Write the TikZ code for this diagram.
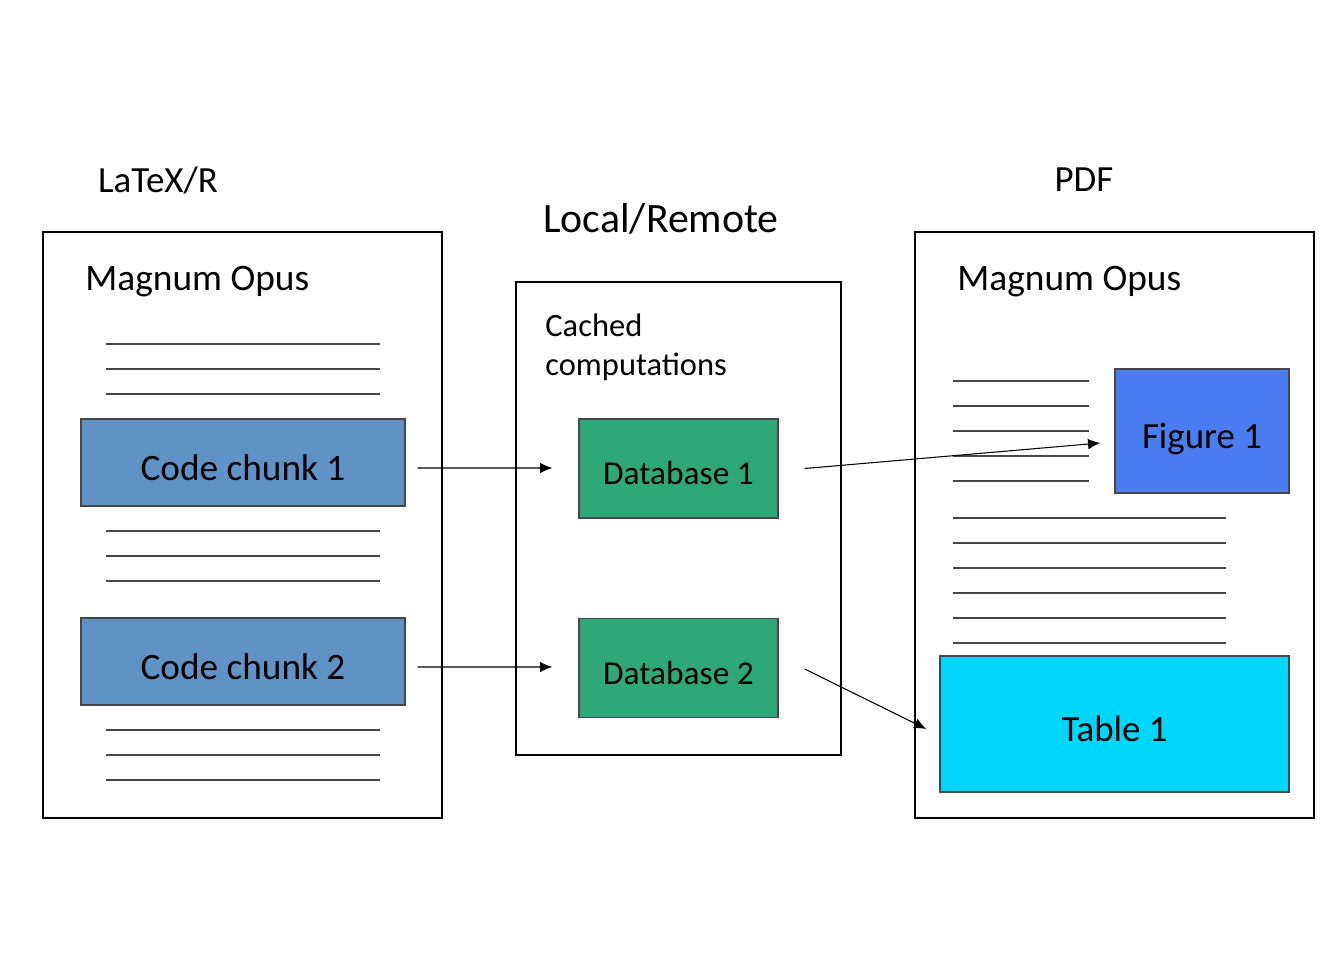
\documentclass[tikz,border=0pt]{standalone}
\usepackage{fontspec}
\setmainfont{Carlito}
\usetikzlibrary{positioning,calc,arrows.meta}
\definecolor{chunkblue}{RGB}{96,146,197}
\definecolor{dbgreen}{RGB}{46,168,122}
\definecolor{figblue}{RGB}{74,126,240}
\definecolor{tabcyan}{RGB}{0,213,250}
\definecolor{rulegray}{RGB}{70,70,70}
\tikzset{
    page/.style = {
        draw,
        line width=1.6pt,
        rectangle,
        inner sep=0pt
    },
    block/.style = {
        draw=rulegray,
        rectangle,
        line width=0.8pt,
        text height=20pt,
        text depth=0pt
    },
    chunk/.style = {
        block,
        fill=chunkblue,
        minimum width=6.48cm,
        minimum height=1.74cm,
        font=\fontsize{21.2}{25}\selectfont
    },
    dbase/.style = {
        block,
        fill=dbgreen,
        text height=18.5pt,
        minimum width=3.98cm,
        minimum height=1.98cm,
        font=\fontsize{19}{23}\selectfont
    },
    title/.style = {
        inner sep=0pt,
        font=\fontsize{21}{25}\selectfont
    },
    textline/.style = {
        draw=rulegray,
        line width=0.8pt
    }
}

\begin{document}
\begin{tikzpicture}[x=0.02cm, y=-0.02cm, >={Latex[length=7pt,width=6pt]}]
            \useasboundingbox (0,0) rectangle (1344,960);
            % pages
            \node [page, minimum width=7.98cm, minimum height=11.72cm] (src) at (242.5,525) {};
            \node [page, minimum width=6.5cm, minimum height=9.46cm] (cache) at (678.5,518.5) {};
            \node [page, minimum width=7.98cm, minimum height=11.72cm] (pdf) at (1114.5,525) {};

            % headings
            \node [title] (latexr) at (158,180) {LaTeX/R};
            \node [title, font=\fontsize{23.8}{28}\selectfont] (localremote) at (661,219) {Local/Remote};
            \node [title] (pdflabel) at (1084,180) {PDF};
            \node [title, anchor=west, font=\fontsize{21.3}{25}\selectfont] (opus1) at (85,282) {Magnum Opus};
            \node [title, anchor=west, font=\fontsize{21.3}{25}\selectfont] (opus2) at (957,282) {Magnum Opus};
            \node [inner sep=0pt, anchor=north west, align=left, font=\fontsize{18.5}{22.2}\selectfont] (cached) at (545,314) {Cached\\computations};

            % blocks
            \node [chunk] (chunk1) at (243,462.5) {Code chunk 1};
            \node [chunk] (chunk2) at (243,661.5) {Code chunk 2};
            \node [dbase] (db1) at (678.5,468.5) {Database 1};
            \node [dbase] (db2) at (678.5,668) {Database 2};
            \node [block, fill=figblue, minimum width=3.48cm, minimum height=2.48cm,
                   font=\fontsize{21}{25}\selectfont] (fig1) at (1202,431) {Figure 1};
            \node [block, fill=tabcyan, minimum width=6.98cm, minimum height=2.72cm,
                   font=\fontsize{21}{25}\selectfont] (tab1) at (1114.5,724) {Table 1};

            % text lines
            \foreach \y in {344,369,394,531,556,581,730,755,780}
                \draw [textline] (106,\y) -- (380,\y);
            \foreach \y in {381,406,431,456,481}
                \draw [textline] (953,\y) -- (1089,\y);
            \foreach \y in {518,543,568,593,618,643}
                \draw [textline] (953,\y) -- (1226,\y);

            % arrows
            \draw [->, line width=0.6pt] ($(chunk1.east)+(12,5.5)$) -- ($(db1.west)+(-26,-0.5)$);
            \draw [->, line width=0.6pt] ($(chunk2.east)+(12,5.5)$) -- ($(db2.west)+(-26,-1)$);
            \draw [->, line width=0.6pt] ($(db1.east)+(26,0)$) -- ($(fig1.west)+(-14,12)$);
            \draw [->, line width=0.6pt] ($(db2.east)+(26,1)$) -- ($(tab1.west)+(-13,5)$);
        \end{tikzpicture}
\end{document}
